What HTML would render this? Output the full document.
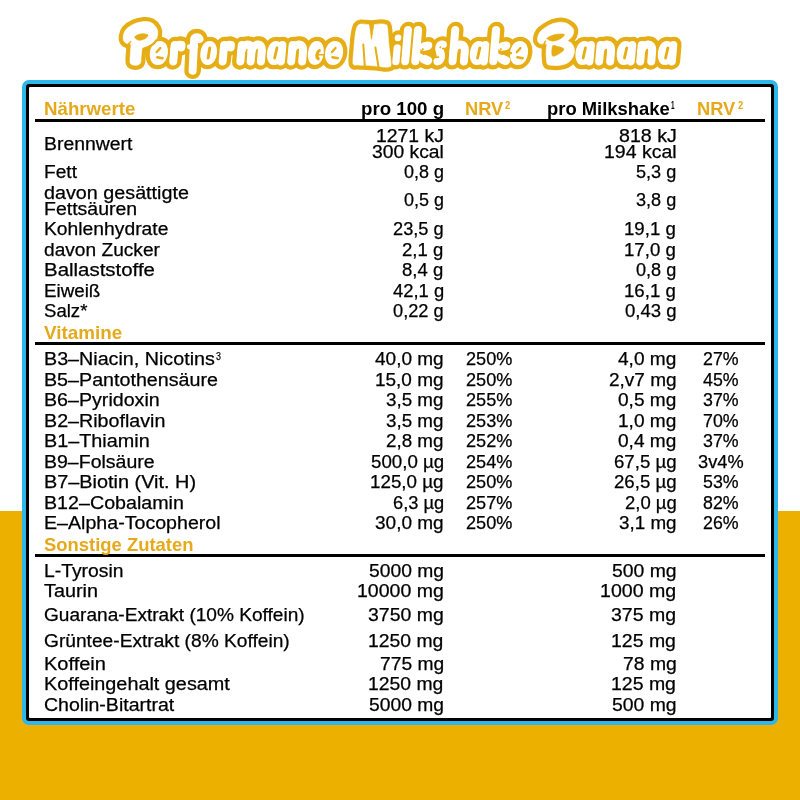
<!DOCTYPE html>
<html lang="de">
<head>
<meta charset="utf-8">
<title>Performance Milkshake Banana – Nährwerte</title>
<style>
html,body{margin:0;padding:0}
body{width:800px;height:800px;position:relative;overflow:hidden;background:#fff;font-family:"Liberation Sans",sans-serif}
.yel{position:absolute;left:0;top:511px;width:800px;height:289px;background:#ECB100}
.box{position:absolute;left:22px;top:80px;width:756px;height:645px;box-sizing:border-box;border:4px solid #2FB6EA;border-radius:7px;background:#000}
.inner{position:absolute;left:29px;top:87px;width:742px;height:631px;background:#fff;border-radius:1px}
.ln{position:absolute;left:35px;width:729.5px;height:3px;background:#000}
.t{position:absolute;white-space:nowrap;font-size:17.5px;line-height:17.5px;color:#000;transform-origin:0 0;-webkit-text-stroke:0.25px #000}
.hy{font-size:18.5px;line-height:18.5px;font-weight:bold;color:#E5A91B;-webkit-text-stroke:0 transparent}
.hb{font-size:18.5px;line-height:18.5px;font-weight:bold;-webkit-text-stroke:0 transparent}
.s{font-size:10.2px;line-height:10.2px}
.title{position:absolute;left:0;top:0}
.txt{position:absolute;left:0;top:0;width:800px;height:800px;will-change:transform}
</style>
</head>
<body>
<div class="yel"></div>
<div class="box"></div>
<div class="inner"></div>
<div class="ln" style="top:119px"></div>
<div class="ln" style="top:342px"></div>
<div class="ln" style="top:554px"></div>
<svg class="title" width="800" height="84" viewBox="0 0 800 84" role="img" aria-label="Performance Milkshake Banana">
<title>Performance Milkshake Banana</title>
<g fill="none" stroke="#E6AE14" stroke-linecap="round" stroke-linejoin="round">
<path d="M130.30,63.00 C129.47,60.78 130.42,55.17 130.50,52.00 C130.58,48.83 131.38,45.42 130.80,44.00 C130.22,42.58 128.17,44.00 127.00,43.50 C125.83,43.00 124.42,42.25 123.80,41.00 C123.18,39.75 122.93,37.92 123.30,36.00 C123.67,34.08 124.22,31.50 126.00,29.50 C127.78,27.50 131.00,25.32 134.00,24.00 C137.00,22.68 141.08,21.80 144.00,21.60 C146.92,21.40 149.37,21.65 151.50,22.80 C153.63,23.95 155.78,26.47 156.80,28.50 C157.82,30.53 157.90,32.75 157.60,35.00 C157.30,37.25 156.43,40.08 155.00,42.00 C153.57,43.92 151.08,45.38 149.00,46.50 C146.92,47.62 143.80,47.12 142.50,48.70 C141.20,50.28 141.57,53.58 141.20,56.00 C140.83,58.42 141.25,61.65 140.30,63.20 C139.35,64.75 137.17,65.33 135.50,65.30 C133.83,65.27 131.13,65.22 130.30,63.00 Z" fill="#E6AE14" stroke-width="9.20"/>
<path d="M192.6,70.8 L194.2,39 C195,36.5 198.5,36.5 199.5,39" stroke-width="16.60"/>
<path d="M189.6,46.8 L195.6,46.2" stroke-width="13.80"/>
<path d="M353.20,63.60 C352.52,60.91 353.53,53.73 353.90,48.75 C354.27,43.77 354.82,37.51 355.40,33.75 C355.98,29.99 356.47,27.81 357.40,26.20 C358.33,24.59 359.57,24.40 361.00,24.10 C362.43,23.80 364.25,24.28 366.00,24.40 C367.75,24.52 369.83,24.80 371.50,24.80 C373.17,24.80 374.50,24.55 376.00,24.40 C377.50,24.25 378.95,23.88 380.50,23.90 C382.05,23.92 384.15,23.95 385.30,24.50 C386.45,25.05 386.80,23.78 387.40,27.20 C388.00,30.62 388.30,38.93 388.90,45.00 C389.50,51.07 390.93,59.97 391.00,63.60 C391.07,67.23 390.63,66.23 389.30,66.80 C387.97,67.37 385.22,67.13 383.00,67.00 C380.78,66.87 378.83,66.28 376.00,66.00 C373.17,65.72 369.00,65.48 366.00,65.30 C363.00,65.12 360.13,65.18 358.00,64.90 C355.87,64.62 353.88,66.29 353.20,63.60 Z" fill="#E6AE14" stroke-width="9.20"/>
<path d="M541.00,43.80 C539.62,43.47 538.77,42.97 538.20,42.00 C537.63,41.03 537.30,39.67 537.60,38.00 C537.90,36.33 538.68,33.75 540.00,32.00 C541.32,30.25 543.33,28.90 545.50,27.50 C547.67,26.10 550.33,24.48 553.00,23.60 C555.67,22.72 559.00,22.13 561.50,22.20 C564.00,22.27 566.08,22.95 568.00,24.00 C569.92,25.05 572.07,27.17 573.00,28.50 C573.93,29.83 573.70,30.75 573.60,32.00 C573.50,33.25 573.17,34.73 572.40,36.00 C571.63,37.27 569.77,38.80 569.00,39.60 C568.23,40.40 567.30,40.10 567.80,40.80 C568.30,41.50 570.90,42.35 572.00,43.80 C573.10,45.25 574.13,47.63 574.40,49.50 C574.67,51.37 574.17,53.25 573.60,55.00 C573.03,56.75 572.27,58.53 571.00,60.00 C569.73,61.47 568.08,62.90 566.00,63.80 C563.92,64.70 561.00,65.17 558.50,65.40 C556.00,65.63 552.88,65.47 551.00,65.20 C549.12,64.93 548.00,65.33 547.20,63.80 C546.40,62.27 546.35,58.47 546.20,56.00 C546.05,53.53 546.25,51.00 546.30,49.00 C546.35,47.00 547.38,44.87 546.50,44.00 C545.62,43.13 542.38,44.13 541.00,43.80 Z" fill="#E6AE14" stroke-width="9.20"/>
<g transform="translate(148.5,65.5) skewX(-5)"><path d="M9.25,-20.5 C2.5,-20.5 2.5,-4.5 9.25,-4.5 C16,-4.5 16,-20.5 9.25,-20.5 Z" stroke-width="16.60" fill="#E6AE14"/></g>
<g transform="translate(168.9,65.5) skewX(-5)"><path d="M4,-4 L4,-20.5" stroke-width="16.60"/><path d="M4,-16 C5,-20 8,-21.5 10.8,-20.5 L10.8,-18" stroke-width="16.60"/></g>
<g transform="translate(199.3,65.5) skewX(-5)"><path d="M8.25,-20.5 C2.5,-20.5 2.5,-4.5 8.25,-4.5 C14,-4.5 14,-20.5 8.25,-20.5 Z" stroke-width="16.60"/></g>
<g transform="translate(218.3,65.5) skewX(-5)"><path d="M4,-4 L4,-20.5" stroke-width="16.60"/><path d="M4,-16 C5,-20 8,-21.5 10.8,-20.5 L10.8,-18" stroke-width="16.60"/></g>
<g transform="translate(236,65.5) skewX(-5)"><path d="M4,-4 L4,-20.5" stroke-width="16.60"/><path d="M4,-14 C4.5,-22 14.3,-24.5 14.3,-14 L14.3,-4" stroke-width="16.60"/><path d="M14.3,-14 C14.8,-22 24.6,-24.5 24.6,-14 L24.6,-4" stroke-width="16.60"/></g>
<g transform="translate(266,65.5) skewX(-5)"><path d="M8,-20.5 C2.5,-20.5 2.5,-4.5 8,-4.5 C13.5,-4.5 13.5,-20.5 8,-20.5 Z" stroke-width="16.60"/><path d="M14.6,-20.5 L14.6,-4" stroke-width="16.60"/></g>
<g transform="translate(286.8,65.5) skewX(-5)"><path d="M4,-4 L4,-20.5" stroke-width="16.60"/><path d="M4,-14 C4.5,-22 15,-24.5 15,-14 L15,-4" stroke-width="16.60"/></g>
<g transform="translate(307,65.5) skewX(-5)"><path d="M7.75,-20.5 C2.5,-20.5 2.5,-4.5 7.75,-4.5 C13,-4.5 13,-20.5 7.75,-20.5 Z" stroke-width="16.60" fill="#E6AE14"/></g>
<g transform="translate(323.7,65.5) skewX(-5)"><path d="M9.25,-20.5 C2.5,-20.5 2.5,-4.5 9.25,-4.5 C16,-4.5 16,-20.5 9.25,-20.5 Z" stroke-width="16.60" fill="#E6AE14"/></g>
<g transform="translate(392,65.5) skewX(-5)"><path d="M3.6,-3.8 L3.6,-17.6" stroke-width="15.80"/><path d="M3.6,-27.6 L3.6,-27.5" stroke-width="15.20"/></g>
<g transform="translate(400.85,65.5) skewX(-5)"><path d="M4,-4.2 L4,-35.4" stroke-width="16.60"/></g>
<g transform="translate(410.85,65.5) skewX(-5)"><path d="M4.1,-4.3 L4.1,-35.3" stroke-width="16.80"/><path d="M11.5,-19 L15.4,-19.8" stroke-width="17.20"/><path d="M6,-10 L12.5,-6.6" stroke-width="14.60"/><path d="M12.6,-6.4 L16.6,-4.8" stroke-width="17.20"/></g>
<g transform="translate(433.1,65.5) skewX(-5)"><path d="M7.9,-20.8 C4.5,-21.4 3.7,-17.5 5.7,-13.5 C7.9,-9.5 7.5,-5 4.1,-4.2" stroke-width="16.80"/></g>
<g transform="translate(448.15,65.5) skewX(-5)"><path d="M4,-4.2 L4,-35.4" stroke-width="16.60"/><path d="M4,-14 C4.5,-22 15.4,-24.5 15.4,-14 L15.4,-4.1" stroke-width="16.60"/></g>
<g transform="translate(468.9,65.5) skewX(-5)"><path d="M8,-20.5 C2.5,-20.5 2.5,-4.5 8,-4.5 C13.5,-4.5 13.5,-20.5 8,-20.5 Z" stroke-width="16.60"/><path d="M14.6,-20.5 L14.6,-4" stroke-width="16.60"/></g>
<g transform="translate(488.85,65.5) skewX(-5)"><path d="M4.1,-4.3 L4.1,-35.3" stroke-width="16.80"/><path d="M11.5,-19 L15.4,-19.8" stroke-width="17.20"/><path d="M6,-10 L12.5,-6.6" stroke-width="14.60"/><path d="M12.6,-6.4 L16.6,-4.8" stroke-width="17.20"/></g>
<g transform="translate(508.65,65.5) skewX(-5)"><path d="M9.25,-20.5 C2.5,-20.5 2.5,-4.5 9.25,-4.5 C16,-4.5 16,-20.5 9.25,-20.5 Z" stroke-width="16.60" fill="#E6AE14"/></g>
<g transform="translate(574.5,65.5) skewX(-5)"><path d="M8,-20.5 C2.5,-20.5 2.5,-4.5 8,-4.5 C13.5,-4.5 13.5,-20.5 8,-20.5 Z" stroke-width="16.60"/><path d="M14.6,-20.5 L14.6,-4" stroke-width="16.60"/></g>
<g transform="translate(594.8,65.5) skewX(-5)"><path d="M4,-4 L4,-20.5" stroke-width="16.60"/><path d="M4,-14 C4.5,-22 15,-24.5 15,-14 L15,-4" stroke-width="16.60"/></g>
<g transform="translate(615.8,65.5) skewX(-5)"><path d="M8,-20.5 C2.5,-20.5 2.5,-4.5 8,-4.5 C13.5,-4.5 13.5,-20.5 8,-20.5 Z" stroke-width="16.60"/><path d="M14.6,-20.5 L14.6,-4" stroke-width="16.60"/></g>
<g transform="translate(635.9,65.5) skewX(-5)"><path d="M4,-4 L4,-20.5" stroke-width="16.60"/><path d="M4,-14 C4.5,-22 15,-24.5 15,-14 L15,-4" stroke-width="16.60"/></g>
<g transform="translate(656.9,65.5) skewX(-5)"><path d="M8,-20.5 C2.5,-20.5 2.5,-4.5 8,-4.5 C13.5,-4.5 13.5,-20.5 8,-20.5 Z" stroke-width="16.60"/><path d="M14.6,-20.5 L14.6,-4" stroke-width="16.60"/></g>
</g>
<g fill="none" stroke="#fff" stroke-linecap="round" stroke-linejoin="round">
<path d="M130.30,63.00 C129.47,60.78 130.42,55.17 130.50,52.00 C130.58,48.83 131.38,45.42 130.80,44.00 C130.22,42.58 128.17,44.00 127.00,43.50 C125.83,43.00 124.42,42.25 123.80,41.00 C123.18,39.75 122.93,37.92 123.30,36.00 C123.67,34.08 124.22,31.50 126.00,29.50 C127.78,27.50 131.00,25.32 134.00,24.00 C137.00,22.68 141.08,21.80 144.00,21.60 C146.92,21.40 149.37,21.65 151.50,22.80 C153.63,23.95 155.78,26.47 156.80,28.50 C157.82,30.53 157.90,32.75 157.60,35.00 C157.30,37.25 156.43,40.08 155.00,42.00 C153.57,43.92 151.08,45.38 149.00,46.50 C146.92,47.62 143.80,47.12 142.50,48.70 C141.20,50.28 141.57,53.58 141.20,56.00 C140.83,58.42 141.25,61.65 140.30,63.20 C139.35,64.75 137.17,65.33 135.50,65.30 C133.83,65.27 131.13,65.22 130.30,63.00 Z" fill="#fff" stroke-width="0.6"/>
<path d="M192.6,70.8 L194.2,39 C195,36.5 198.5,36.5 199.5,39" stroke-width="8"/>
<path d="M189.6,46.8 L195.6,46.2" stroke-width="5.2"/>
<path d="M353.20,63.60 C352.52,60.91 353.53,53.73 353.90,48.75 C354.27,43.77 354.82,37.51 355.40,33.75 C355.98,29.99 356.47,27.81 357.40,26.20 C358.33,24.59 359.57,24.40 361.00,24.10 C362.43,23.80 364.25,24.28 366.00,24.40 C367.75,24.52 369.83,24.80 371.50,24.80 C373.17,24.80 374.50,24.55 376.00,24.40 C377.50,24.25 378.95,23.88 380.50,23.90 C382.05,23.92 384.15,23.95 385.30,24.50 C386.45,25.05 386.80,23.78 387.40,27.20 C388.00,30.62 388.30,38.93 388.90,45.00 C389.50,51.07 390.93,59.97 391.00,63.60 C391.07,67.23 390.63,66.23 389.30,66.80 C387.97,67.37 385.22,67.13 383.00,67.00 C380.78,66.87 378.83,66.28 376.00,66.00 C373.17,65.72 369.00,65.48 366.00,65.30 C363.00,65.12 360.13,65.18 358.00,64.90 C355.87,64.62 353.88,66.29 353.20,63.60 Z" fill="#fff" stroke-width="0.6"/>
<path d="M541.00,43.80 C539.62,43.47 538.77,42.97 538.20,42.00 C537.63,41.03 537.30,39.67 537.60,38.00 C537.90,36.33 538.68,33.75 540.00,32.00 C541.32,30.25 543.33,28.90 545.50,27.50 C547.67,26.10 550.33,24.48 553.00,23.60 C555.67,22.72 559.00,22.13 561.50,22.20 C564.00,22.27 566.08,22.95 568.00,24.00 C569.92,25.05 572.07,27.17 573.00,28.50 C573.93,29.83 573.70,30.75 573.60,32.00 C573.50,33.25 573.17,34.73 572.40,36.00 C571.63,37.27 569.77,38.80 569.00,39.60 C568.23,40.40 567.30,40.10 567.80,40.80 C568.30,41.50 570.90,42.35 572.00,43.80 C573.10,45.25 574.13,47.63 574.40,49.50 C574.67,51.37 574.17,53.25 573.60,55.00 C573.03,56.75 572.27,58.53 571.00,60.00 C569.73,61.47 568.08,62.90 566.00,63.80 C563.92,64.70 561.00,65.17 558.50,65.40 C556.00,65.63 552.88,65.47 551.00,65.20 C549.12,64.93 548.00,65.33 547.20,63.80 C546.40,62.27 546.35,58.47 546.20,56.00 C546.05,53.53 546.25,51.00 546.30,49.00 C546.35,47.00 547.38,44.87 546.50,44.00 C545.62,43.13 542.38,44.13 541.00,43.80 Z" fill="#fff" stroke-width="0.6"/>
<g transform="translate(148.5,65.5) skewX(-5)"><path d="M9.25,-20.5 C2.5,-20.5 2.5,-4.5 9.25,-4.5 C16,-4.5 16,-20.5 9.25,-20.5 Z" stroke-width="8.0" fill="#fff"/></g>
<g transform="translate(168.9,65.5) skewX(-5)"><path d="M4,-4 L4,-20.5" stroke-width="8.0"/><path d="M4,-16 C5,-20 8,-21.5 10.8,-20.5 L10.8,-18" stroke-width="8"/></g>
<g transform="translate(199.3,65.5) skewX(-5)"><path d="M8.25,-20.5 C2.5,-20.5 2.5,-4.5 8.25,-4.5 C14,-4.5 14,-20.5 8.25,-20.5 Z" stroke-width="8.0"/></g>
<g transform="translate(218.3,65.5) skewX(-5)"><path d="M4,-4 L4,-20.5" stroke-width="8.0"/><path d="M4,-16 C5,-20 8,-21.5 10.8,-20.5 L10.8,-18" stroke-width="8"/></g>
<g transform="translate(236,65.5) skewX(-5)"><path d="M4,-4 L4,-20.5" stroke-width="8.0"/><path d="M4,-14 C4.5,-22 14.3,-24.5 14.3,-14 L14.3,-4" stroke-width="8.0"/><path d="M14.3,-14 C14.8,-22 24.6,-24.5 24.6,-14 L24.6,-4" stroke-width="8.0"/></g>
<g transform="translate(266,65.5) skewX(-5)"><path d="M8,-20.5 C2.5,-20.5 2.5,-4.5 8,-4.5 C13.5,-4.5 13.5,-20.5 8,-20.5 Z" stroke-width="8.0"/><path d="M14.6,-20.5 L14.6,-4" stroke-width="8.0"/></g>
<g transform="translate(286.8,65.5) skewX(-5)"><path d="M4,-4 L4,-20.5" stroke-width="8.0"/><path d="M4,-14 C4.5,-22 15,-24.5 15,-14 L15,-4" stroke-width="8.0"/></g>
<g transform="translate(307,65.5) skewX(-5)"><path d="M7.75,-20.5 C2.5,-20.5 2.5,-4.5 7.75,-4.5 C13,-4.5 13,-20.5 7.75,-20.5 Z" stroke-width="8.0" fill="#fff"/></g>
<g transform="translate(323.7,65.5) skewX(-5)"><path d="M9.25,-20.5 C2.5,-20.5 2.5,-4.5 9.25,-4.5 C16,-4.5 16,-20.5 9.25,-20.5 Z" stroke-width="8.0" fill="#fff"/></g>
<g transform="translate(392,65.5) skewX(-5)"><path d="M3.6,-3.8 L3.6,-17.6" stroke-width="7.2"/><path d="M3.6,-27.6 L3.6,-27.5" stroke-width="6.6"/></g>
<g transform="translate(400.85,65.5) skewX(-5)"><path d="M4,-4.2 L4,-35.4" stroke-width="8"/></g>
<g transform="translate(410.85,65.5) skewX(-5)"><path d="M4.1,-4.3 L4.1,-35.3" stroke-width="8.2"/><path d="M11.5,-19 L15.4,-19.8" stroke-width="8.6"/><path d="M6,-10 L12.5,-6.6" stroke-width="6"/><path d="M12.6,-6.4 L16.6,-4.8" stroke-width="8.6"/></g>
<g transform="translate(433.1,65.5) skewX(-5)"><path d="M7.9,-20.8 C4.5,-21.4 3.7,-17.5 5.7,-13.5 C7.9,-9.5 7.5,-5 4.1,-4.2" stroke-width="8.2"/></g>
<g transform="translate(448.15,65.5) skewX(-5)"><path d="M4,-4.2 L4,-35.4" stroke-width="8"/><path d="M4,-14 C4.5,-22 15.4,-24.5 15.4,-14 L15.4,-4.1" stroke-width="8"/></g>
<g transform="translate(468.9,65.5) skewX(-5)"><path d="M8,-20.5 C2.5,-20.5 2.5,-4.5 8,-4.5 C13.5,-4.5 13.5,-20.5 8,-20.5 Z" stroke-width="8.0"/><path d="M14.6,-20.5 L14.6,-4" stroke-width="8.0"/></g>
<g transform="translate(488.85,65.5) skewX(-5)"><path d="M4.1,-4.3 L4.1,-35.3" stroke-width="8.2"/><path d="M11.5,-19 L15.4,-19.8" stroke-width="8.6"/><path d="M6,-10 L12.5,-6.6" stroke-width="6"/><path d="M12.6,-6.4 L16.6,-4.8" stroke-width="8.6"/></g>
<g transform="translate(508.65,65.5) skewX(-5)"><path d="M9.25,-20.5 C2.5,-20.5 2.5,-4.5 9.25,-4.5 C16,-4.5 16,-20.5 9.25,-20.5 Z" stroke-width="8.0" fill="#fff"/></g>
<g transform="translate(574.5,65.5) skewX(-5)"><path d="M8,-20.5 C2.5,-20.5 2.5,-4.5 8,-4.5 C13.5,-4.5 13.5,-20.5 8,-20.5 Z" stroke-width="8.0"/><path d="M14.6,-20.5 L14.6,-4" stroke-width="8.0"/></g>
<g transform="translate(594.8,65.5) skewX(-5)"><path d="M4,-4 L4,-20.5" stroke-width="8.0"/><path d="M4,-14 C4.5,-22 15,-24.5 15,-14 L15,-4" stroke-width="8.0"/></g>
<g transform="translate(615.8,65.5) skewX(-5)"><path d="M8,-20.5 C2.5,-20.5 2.5,-4.5 8,-4.5 C13.5,-4.5 13.5,-20.5 8,-20.5 Z" stroke-width="8.0"/><path d="M14.6,-20.5 L14.6,-4" stroke-width="8.0"/></g>
<g transform="translate(635.9,65.5) skewX(-5)"><path d="M4,-4 L4,-20.5" stroke-width="8.0"/><path d="M4,-14 C4.5,-22 15,-24.5 15,-14 L15,-4" stroke-width="8.0"/></g>
<g transform="translate(656.9,65.5) skewX(-5)"><path d="M8,-20.5 C2.5,-20.5 2.5,-4.5 8,-4.5 C13.5,-4.5 13.5,-20.5 8,-20.5 Z" stroke-width="8.0"/><path d="M14.6,-20.5 L14.6,-4" stroke-width="8.0"/></g>
</g>
<g fill="none" stroke="#E6AE14" stroke-linecap="round" stroke-linejoin="round">
<path d="M134.80,36.80 C135.23,35.73 138.87,34.17 141.00,33.80 C143.13,33.43 146.57,34.07 147.60,34.60 C148.63,35.13 147.80,36.23 147.20,37.00 C146.60,37.77 145.47,38.67 144.00,39.20 C142.53,39.73 139.93,40.60 138.40,40.20 C136.87,39.80 134.37,37.87 134.80,36.80 Z" fill="#E6AE14" stroke-width="0.5"/>
<path d="M547.00,38.30 C547.38,37.20 552.08,35.32 554.75,34.60 C557.42,33.88 561.42,33.87 563.00,34.00 C564.58,34.13 564.70,34.57 564.20,35.40 C563.70,36.23 561.95,38.03 560.00,39.00 C558.05,39.97 554.67,41.32 552.50,41.20 C550.33,41.08 546.62,39.40 547.00,38.30 Z" fill="#E6AE14" stroke-width="0.5"/>
<path d="M552.60,46.00 C553.48,44.40 556.17,46.17 558.00,46.60 C559.83,47.03 562.93,47.73 563.60,48.60 C564.27,49.47 563.82,50.53 562.00,51.80 C560.18,53.07 554.27,57.17 552.70,56.20 C551.13,55.23 551.72,47.60 552.60,46.00 Z" fill="#E6AE14" stroke-width="0.5"/>
<path d="M543.9,44.3 L545.4,41.2" stroke-width="1.5"/>
<path d="M128.6,43.8 L130.6,41.6" stroke-width="1.4"/>
<path d="M156.2,40.5 C154,44.5 149,47.2 143.5,48.9" stroke-width="2.4"/>
<path d="M363.3,44.5 L364.8,66" stroke-width="2.0"/>
<path d="M375.4,47.5 L378.8,69" stroke-width="2.0"/>
<path d="M369.2,21.5 L371.5,39.2 L374.2,21.5 Z" fill="#E6AE14" stroke-width="0.8"/>
<g transform="translate(148.5,65.5) skewX(-5)"><path d="M7.1,-13.4 L10.3,-17.4" stroke-width="2.4"/><path d="M8,-8.3 L13.4,-7.2" stroke-width="2.4"/></g>
<g transform="translate(199.3,65.5) skewX(-5)"><path d="M8.9,-17.5 L8.2,-7.5" stroke-width="3.0"/></g>
<g transform="translate(266,65.5) skewX(-5)"><path d="M9.4,-17.5 L8,-7.5" stroke-width="2.8"/></g>
<g transform="translate(307,65.5) skewX(-5)"><path d="M11,-14.8 C8.3,-13 8.3,-8.5 10.6,-6.8" stroke-width="3.2"/><path d="M10,-10.8 L16.5,-10.8" stroke-width="1.4"/></g>
<g transform="translate(323.7,65.5) skewX(-5)"><path d="M7.1,-13.4 L10.3,-17.4" stroke-width="2.4"/><path d="M8,-8.3 L13.4,-7.2" stroke-width="2.4"/></g>
<g transform="translate(410.85,65.5) skewX(-5)"><path d="M21,-12.2 L14.5,-12.6" stroke-width="2.4"/><path d="M14.5,-12.6 L10.8,-13" stroke-width="1.5"/><path d="M10.4,-16.4 L10.5,-16.3" stroke-width="2.0"/></g>
<g transform="translate(433.1,65.5) skewX(-5)"><path d="M13,-17 L8.2,-17" stroke-width="1.7"/><path d="M5.6,-18.2 L5.7,-18.1" stroke-width="1.9"/><path d="M-1,-8 L4.6,-8.4" stroke-width="1.7"/></g>
<g transform="translate(468.9,65.5) skewX(-5)"><path d="M9.4,-17.5 L8,-7.5" stroke-width="2.8"/></g>
<g transform="translate(488.85,65.5) skewX(-5)"><path d="M21,-12.2 L14.5,-12.6" stroke-width="2.4"/><path d="M14.5,-12.6 L10.8,-13" stroke-width="1.5"/><path d="M10.4,-16.4 L10.5,-16.3" stroke-width="2.0"/></g>
<g transform="translate(508.65,65.5) skewX(-5)"><path d="M7.1,-13.4 L10.3,-17.4" stroke-width="2.4"/><path d="M8,-8.3 L13.4,-7.2" stroke-width="2.4"/></g>
<g transform="translate(574.5,65.5) skewX(-5)"><path d="M9.4,-17.5 L8,-7.5" stroke-width="2.8"/></g>
<g transform="translate(615.8,65.5) skewX(-5)"><path d="M9.4,-17.5 L8,-7.5" stroke-width="2.8"/></g>
<g transform="translate(656.9,65.5) skewX(-5)"><path d="M9.4,-17.5 L8,-7.5" stroke-width="2.8"/></g>
</g>
</svg>
<div class="txt">
<div class="t hy" style="left:43.90px;top:100.00px;transform:scaleX(1.0101)">Nährwerte</div>
<div class="t" style="left:43.90px;top:136.00px;transform:scaleX(1.1089)">Brennwert</div>
<div class="t" style="left:43.90px;top:164.00px;transform:scaleX(1.0930)">Fett</div>
<div class="t" style="left:43.90px;top:185.00px;transform:scaleX(1.1284)">davon gesättigte</div>
<div class="t" style="left:43.90px;top:201.00px;transform:scaleX(1.1137)">Fettsäuren</div>
<div class="t" style="left:43.90px;top:221.00px;transform:scaleX(1.1023)">Kohlenhydrate</div>
<div class="t" style="left:43.90px;top:242.00px;transform:scaleX(1.0932)">davon Zucker</div>
<div class="t" style="left:43.90px;top:262.00px;transform:scaleX(1.1678)">Ballaststoffe</div>
<div class="t" style="left:43.90px;top:283.00px;transform:scaleX(1.0730)">Eiweiß</div>
<div class="t" style="left:43.90px;top:303.00px;transform:scaleX(1.0623)">Salz*</div>
<div class="t hy" style="left:43.90px;top:324.00px;transform:scaleX(1.0179)">Vitamine</div>
<div class="t" style="left:43.90px;top:351.00px;transform:scaleX(1.1258)">B3–Niacin, Nicotins</div>
<div class="t" style="left:43.90px;top:372.00px;transform:scaleX(1.1242)">B5–Pantothensäure</div>
<div class="t" style="left:43.90px;top:392.00px;transform:scaleX(1.1218)">B6–Pyridoxin</div>
<div class="t" style="left:43.90px;top:413.00px;transform:scaleX(1.1245)">B2–Riboflavin</div>
<div class="t" style="left:43.90px;top:433.00px;transform:scaleX(1.1317)">B1–Thiamin</div>
<div class="t" style="left:43.90px;top:454.00px;transform:scaleX(1.1153)">B9–Folsäure</div>
<div class="t" style="left:43.90px;top:474.00px;transform:scaleX(1.1355)">B7–Biotin (Vit. H)</div>
<div class="t" style="left:43.90px;top:495.00px;transform:scaleX(1.1237)">B12–Cobalamin</div>
<div class="t" style="left:43.90px;top:515.00px;transform:scaleX(1.1205)">E–Alpha-Tocopherol</div>
<div class="t hy" style="left:43.90px;top:536.00px;transform:scaleX(0.9956)">Sonstige Zutaten</div>
<div class="t" style="left:43.90px;top:563.00px;transform:scaleX(1.1034)">L-Tyrosin</div>
<div class="t" style="left:43.90px;top:583.00px;transform:scaleX(1.1315)">Taurin</div>
<div class="t" style="left:43.90px;top:607.00px;transform:scaleX(1.0910)">Guarana-Extrakt (10% Koffein)</div>
<div class="t" style="left:43.90px;top:633.00px;transform:scaleX(1.0952)">Grüntee-Extrakt (8% Koffein)</div>
<div class="t" style="left:43.90px;top:656.00px;transform:scaleX(1.1435)">Koffein</div>
<div class="t" style="left:43.90px;top:676.00px;transform:scaleX(1.1325)">Koffeingehalt gesamt</div>
<div class="t" style="left:43.90px;top:697.00px;transform:scaleX(1.1160)">Cholin-Bitartrat</div>
<div class="t hb" style="left:360.99px;top:100.00px;transform:scaleX(1.0099)">pro 100 g</div>
<div class="t" style="left:375.89px;top:128.00px;transform:scaleX(1.1068)">1271 kJ</div>
<div class="t" style="left:372.00px;top:144.00px;transform:scaleX(1.1028)">300 kcal</div>
<div class="t" style="left:403.75px;top:164.00px;transform:scaleX(1.0252)">0,8 g</div>
<div class="t" style="left:403.75px;top:192.00px;transform:scaleX(1.0252)">0,5 g</div>
<div class="t" style="left:393.00px;top:221.00px;transform:scaleX(1.0413)">23,5 g</div>
<div class="t" style="left:402.42px;top:242.00px;transform:scaleX(1.0600)">2,1 g</div>
<div class="t" style="left:402.42px;top:262.00px;transform:scaleX(1.0600)">8,4 g</div>
<div class="t" style="left:392.50px;top:283.00px;transform:scaleX(1.0517)">42,1 g</div>
<div class="t" style="left:393.00px;top:303.00px;transform:scaleX(1.0413)">0,22 g</div>
<div class="t" style="left:375.00px;top:351.00px;transform:scaleX(1.0864)">40,0 mg</div>
<div class="t" style="left:375.17px;top:372.00px;transform:scaleX(1.0837)">15,0 mg</div>
<div class="t" style="left:386.25px;top:392.00px;transform:scaleX(1.0736)">3,5 mg</div>
<div class="t" style="left:386.25px;top:413.00px;transform:scaleX(1.0736)">3,5 mg</div>
<div class="t" style="left:386.25px;top:433.00px;transform:scaleX(1.0736)">2,8 mg</div>
<div class="t" style="left:370.50px;top:454.00px;transform:scaleX(1.0688)">500,0 µg</div>
<div class="t" style="left:370.18px;top:474.00px;transform:scaleX(1.0736)">125,0 µg</div>
<div class="t" style="left:392.50px;top:495.00px;transform:scaleX(1.0441)">6,3 µg</div>
<div class="t" style="left:375.00px;top:515.00px;transform:scaleX(1.0864)">30,0 mg</div>
<div class="t" style="left:368.75px;top:563.00px;transform:scaleX(1.1006)">5000 mg</div>
<div class="t" style="left:356.88px;top:583.00px;transform:scaleX(1.1156)">10000 mg</div>
<div class="t" style="left:368.00px;top:607.00px;transform:scaleX(1.1118)">3750 mg</div>
<div class="t" style="left:368.39px;top:633.00px;transform:scaleX(1.1059)">1250 mg</div>
<div class="t" style="left:379.50px;top:656.00px;transform:scaleX(1.1000)">775 mg</div>
<div class="t" style="left:368.39px;top:676.00px;transform:scaleX(1.1059)">1250 mg</div>
<div class="t" style="left:368.75px;top:697.00px;transform:scaleX(1.1006)">5000 mg</div>
<div class="t hy" style="left:465.26px;top:100.00px;transform:scaleX(0.9886)">NRV</div>
<div class="t" style="left:465.52px;top:351.00px;transform:scaleX(1.0351)">250%</div>
<div class="t" style="left:465.52px;top:372.00px;transform:scaleX(1.0351)">250%</div>
<div class="t" style="left:465.52px;top:392.00px;transform:scaleX(1.0351)">255%</div>
<div class="t" style="left:465.52px;top:413.00px;transform:scaleX(1.0351)">253%</div>
<div class="t" style="left:465.52px;top:433.00px;transform:scaleX(1.0351)">252%</div>
<div class="t" style="left:465.52px;top:454.00px;transform:scaleX(1.0351)">254%</div>
<div class="t" style="left:465.52px;top:474.00px;transform:scaleX(1.0351)">250%</div>
<div class="t" style="left:465.52px;top:495.00px;transform:scaleX(1.0351)">257%</div>
<div class="t" style="left:465.52px;top:515.00px;transform:scaleX(1.0351)">250%</div>
<div class="t hb" style="left:546.50px;top:100.00px;transform:scaleX(0.9952)">pro Milkshake</div>
<div class="t" style="left:618.60px;top:128.00px;transform:scaleX(1.1199)">818 kJ</div>
<div class="t" style="left:603.89px;top:144.00px;transform:scaleX(1.1139)">194 kcal</div>
<div class="t" style="left:636.00px;top:164.00px;transform:scaleX(1.0343)">5,3 g</div>
<div class="t" style="left:636.00px;top:192.00px;transform:scaleX(1.0343)">3,8 g</div>
<div class="t" style="left:624.43px;top:221.00px;transform:scaleX(1.0656)">19,1 g</div>
<div class="t" style="left:624.43px;top:242.00px;transform:scaleX(1.0656)">17,0 g</div>
<div class="t" style="left:636.00px;top:262.00px;transform:scaleX(1.0343)">0,8 g</div>
<div class="t" style="left:624.43px;top:283.00px;transform:scaleX(1.0656)">16,1 g</div>
<div class="t" style="left:624.70px;top:303.00px;transform:scaleX(1.0600)">0,43 g</div>
<div class="t" style="left:618.00px;top:351.00px;transform:scaleX(1.0897)">4,0 mg</div>
<div class="t" style="left:608.75px;top:372.00px;transform:scaleX(1.0851)">2,v7 mg</div>
<div class="t" style="left:618.00px;top:392.00px;transform:scaleX(1.0897)">0,5 mg</div>
<div class="t" style="left:617.91px;top:413.00px;transform:scaleX(1.0914)">1,0 mg</div>
<div class="t" style="left:618.00px;top:433.00px;transform:scaleX(1.0897)">0,4 mg</div>
<div class="t" style="left:613.75px;top:454.00px;transform:scaleX(1.0646)">67,5 µg</div>
<div class="t" style="left:613.75px;top:474.00px;transform:scaleX(1.0646)">26,5 µg</div>
<div class="t" style="left:624.50px;top:495.00px;transform:scaleX(1.0565)">2,0 µg</div>
<div class="t" style="left:618.75px;top:515.00px;transform:scaleX(1.0755)">3,1 mg</div>
<div class="t" style="left:611.75px;top:563.00px;transform:scaleX(1.1060)">500 mg</div>
<div class="t" style="left:600.13px;top:583.00px;transform:scaleX(1.1187)">1000 mg</div>
<div class="t" style="left:611.25px;top:607.00px;transform:scaleX(1.1147)">375 mg</div>
<div class="t" style="left:611.39px;top:633.00px;transform:scaleX(1.1123)">125 mg</div>
<div class="t" style="left:622.50px;top:656.00px;transform:scaleX(1.1064)">78 mg</div>
<div class="t" style="left:611.39px;top:676.00px;transform:scaleX(1.1123)">125 mg</div>
<div class="t" style="left:611.75px;top:697.00px;transform:scaleX(1.1060)">500 mg</div>
<div class="t hy" style="left:697.01px;top:100.00px;transform:scaleX(0.9886)">NRV</div>
<div class="t" style="left:703.00px;top:351.00px;transform:scaleX(1.0155)">27%</div>
<div class="t" style="left:703.00px;top:372.00px;transform:scaleX(1.0155)">45%</div>
<div class="t" style="left:703.00px;top:392.00px;transform:scaleX(1.0155)">37%</div>
<div class="t" style="left:703.00px;top:413.00px;transform:scaleX(1.0155)">70%</div>
<div class="t" style="left:703.00px;top:433.00px;transform:scaleX(1.0155)">37%</div>
<div class="t" style="left:698.00px;top:454.00px;transform:scaleX(1.0413)">3v4%</div>
<div class="t" style="left:703.00px;top:474.00px;transform:scaleX(1.0155)">53%</div>
<div class="t" style="left:703.00px;top:495.00px;transform:scaleX(1.0155)">82%</div>
<div class="t" style="left:703.00px;top:515.00px;transform:scaleX(1.0155)">26%</div>
<div class="t s" style="left:216.00px;top:352.00px;transform:scaleX(0.8667)">3</div>
<div class="t s hy" style="left:505.00px;top:101.00px;transform:scaleX(0.9167)">2</div>
<div class="t s hb" style="left:671.00px;top:101.00px;transform:scaleX(0.6250)">1</div>
<div class="t s hy" style="left:737.50px;top:101.00px;transform:scaleX(0.9167)">2</div>
</div>
</body>
</html>
